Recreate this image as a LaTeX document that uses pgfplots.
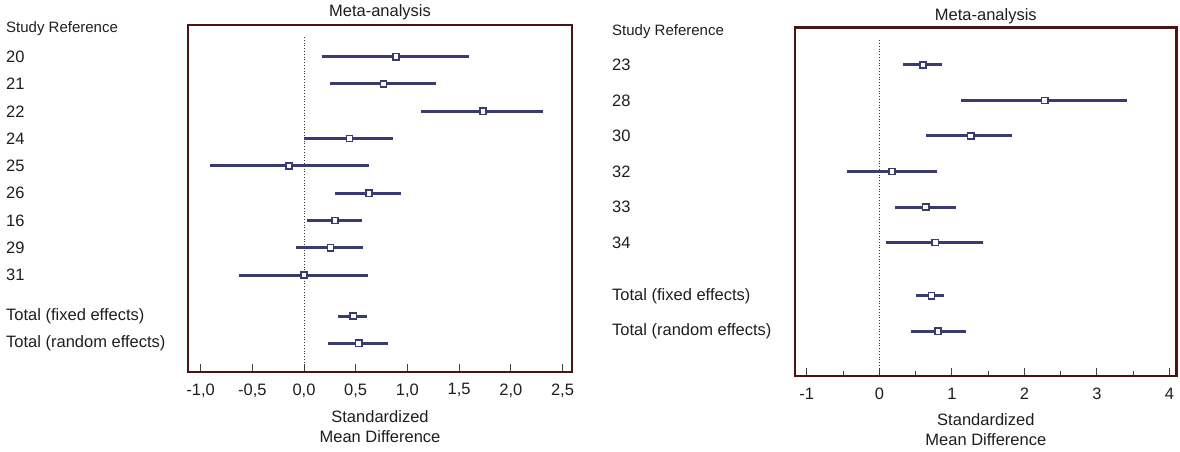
\documentclass[border=0pt]{standalone}
\usepackage{fontspec}
\setmainfont{Liberation Sans}
\usepackage{pgfplots}
\pgfplotsset{compat=1.18}
\usepackage{pgfplotstable}
\definecolor{frame}{HTML}{4B1414}
\definecolor{ci}{HTML}{3A3A72}
\definecolor{txt}{HTML}{1E1E1E}

\pgfplotstableread{
row est lo hi
0 0.89 0.17 1.60
1 0.77 0.25 1.28
2 1.73 1.13 2.31
3 0.44 0.00 0.86
4 -0.145 -0.91 0.63
5 0.63 0.30 0.94
6 0.30 0.026 0.56
7 0.255 -0.08 0.57
8 0.00 -0.625 0.615
9.5 0.477 0.33 0.61
10.5 0.53 0.235 0.81
}\lefttab

\pgfplotstableread{
row est lo hi
0 0.60 0.32 0.87
1 2.28 1.13 3.41
2 1.26 0.65 1.83
3 0.175 -0.45 0.80
4 0.64 0.21 1.06
5 0.77 0.09 1.43
6.5 0.72 0.51 0.89
7.5 0.81 0.43 1.19
}\righttab

\newcommand{\tf}{\fontsize{16.5}{20}\selectfont}

\pgfplotsset{forest/.style={
  scale only axis, anchor=south west,
  y dir=reverse,
  axis line style={draw=frame, line width=2.5pt},
  xtick pos=bottom, ytick pos=left, tick align=inside,
  major tick length=8pt, minor tick length=5pt,
  tick style={draw=black!75, line width=1pt},
  ytick style={draw=none},
  yticklabel style={anchor=west, inner xsep=0pt, font=\tf, text=txt, xshift=-182pt},
  xticklabel style={font=\tf, text=txt},
  title style={font=\tf, text=txt, anchor=base, at={(0.5,1)}},
  xlabel style={font=\tf, text=txt, align=center, anchor=north, at={(0.5,0)}, inner sep=0pt},
  xlabel={Standardized\\Mean Difference},
  title={Meta-analysis},
  clip=false,
}}
\pgfplotsset{ci/.style={draw=none, mark=none, forget plot,
  error bars/.cd, x dir=both, x explicit, error mark=none,
  error bar style={draw=ci, line width=3pt, solid}},
  pt/.style={only marks, mark=square*, mark size=3.1pt,
  mark options={fill=white, draw=ci, line width=1.5pt, solid}}}

\begin{document}
\begin{tikzpicture}
\useasboundingbox (0,0) rectangle (1180pt,451pt);
\node[anchor=west, inner sep=0pt, font=\fontsize{15}{18}\selectfont, text=txt] at (6pt,422.7pt) {Study Reference};
\node[anchor=west, inner sep=0pt, font=\fontsize{15}{18}\selectfont, text=txt] at (612pt,419.3pt) {Study Reference};

\begin{axis}[forest, at={(188pt,79pt)}, width=384pt, height=347pt,
  xmin=-1.122, xmax=2.592, ymin=-1.161, ymax=11.55,
  xtick={-1,-0.5,0,0.5,1,1.5,2,2.5},
  xticklabels={{-1,0},{-0,5},{0,0},{0,5},{1,0},{1,5},{2,0},{2,5}},
  xticklabel style={yshift=-8pt},
  ytick={0,1,2,3,4,5,6,7,8,9.5,10.5},
  yticklabels={20,21,22,24,25,26,16,29,31,Total (fixed effects),Total (random effects)},
  title style={yshift=2.3pt},
  xlabel style={yshift=-38.7pt},
]
\addplot[black!80, dotted, line width=0.8pt] coordinates {(0,-0.72) (0,11.55)};
\addplot[ci] table[x=est, y=row, x error plus expr=\thisrow{hi}-\thisrow{est}, x error minus expr=\thisrow{est}-\thisrow{lo}] {\lefttab};
\addplot[pt] table[x=est, y=row] {\lefttab};
\end{axis}

\begin{axis}[forest, at={(795pt,75pt)}, width=381.7pt, height=348.3pt,
  xmin=-1.163, xmax=4.10, ymin=-1.05, ymax=8.76,
  xtick={-1,0,1,2,3,4},
  xticklabels={-1,0,1,2,3,4},
  minor x tick num=1,
  xticklabel style={yshift=-8.5pt},
  ytick={0,1,2,3,4,5,6.5,7.5},
  yticklabels={23,28,30,32,33,34,Total (fixed effects),Total (random effects)},
  yticklabel style={xshift=-1pt},
  title style={yshift=1.2pt},
  xlabel style={yshift=-37pt},
]
\addplot[black!80, dotted, line width=0.8pt] coordinates {(0,-0.7) (0,8.76)};
\addplot[ci] table[x=est, y=row, x error plus expr=\thisrow{hi}-\thisrow{est}, x error minus expr=\thisrow{est}-\thisrow{lo}] {\righttab};
\addplot[pt] table[x=est, y=row] {\righttab};
\end{axis}
\end{tikzpicture}
\end{document}
